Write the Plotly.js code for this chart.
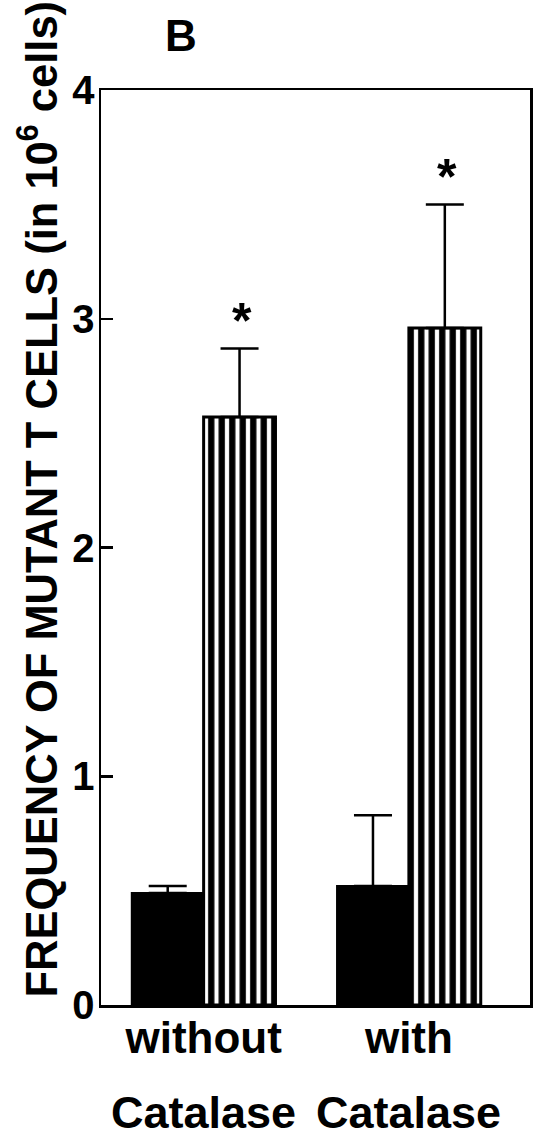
<!DOCTYPE html>
<html>
<head>
<meta charset="utf-8">
<script src="https://cdn.plot.ly/plotly-3.0.1.min.js"></script>
<style>html,body{margin:0;padding:0;background:#fff;}#chart{width:538px;height:1141px;}</style>
</head>
<body>
<div id="chart"></div>
<script>
// ---- data ----
const categories = ["without", "with"];
const secondLine = ["Catalase", "Catalase"];
const controlValues = [0.49, 0.52];      // solid black bars
const controlErrors = [0.03, 0.31];
const treatedValues = [2.57, 2.96];      // vertically striped bars
const treatedErrors = [0.30, 0.54];
const significant = [true, true];        // asterisks over striped bars
const yTickVals = [0, 1, 2, 3, 4];
const yTickText = ["0", "1", "2", "3", "4"];
const panelLabel = "B";
const yTitle = "FREQUENCY OF MUTANT T CELLS (in 10<sup>6</sup> cells)";

const FONT = "'Liberation Sans', Arial, Helvetica, sans-serif";

const errStyle = {type: "data", symmetric: false, color: "#000", thickness: 2.5, width: 19};

const traces = [
  {
    type: "bar", x: categories, y: controlValues, name: "control",
    marker: {color: "#000", line: {color: "#000", width: 2}},
    error_y: Object.assign({array: controlErrors, arrayminus: controlValues.map(() => 0)}, errStyle)
  },
  {
    type: "bar", x: categories, y: treatedValues, name: "treated",
    marker: {
      color: "#fff",
      line: {color: "#000", width: 3},
      pattern: {shape: "|", fgcolor: "#000", bgcolor: "#fff", size: 10.5, solidity: 0.6}
    },
    error_y: Object.assign({array: treatedErrors, arrayminus: treatedValues.map(() => 0)}, errStyle)
  }
];

const annotations = [];
categories.forEach((c, i) => {
  if (significant[i]) {
    annotations.push({
      x: c, y: treatedValues[i] + treatedErrors[i], xref: "x", yref: "y",
      text: "*", showarrow: false, xshift: 38, yshift: 27,
      xanchor: "center", yanchor: "middle",
      font: {family: FONT, size: 50, color: "#000", weight: "bold"}
    });
  }
  annotations.push({
    x: c, y: -0.117, xref: "x", yref: "paper",
    text: secondLine[i], showarrow: false, xanchor: "center", yanchor: "middle",
    font: {family: FONT, size: 45, color: "#000", weight: "bold"}
  });
});
annotations.push({
  x: -0.148, y: 0.553, xref: "paper", yref: "paper",
  text: yTitle, textangle: -90, showarrow: false,
  xanchor: "center", yanchor: "middle",
  font: {family: FONT, size: 43.5, color: "#000", weight: "bold"}
});

const layout = {
  width: 538, height: 1141,
  margin: {l: 101, r: 8, t: 90, b: 136},
  paper_bgcolor: "#fff", plot_bgcolor: "#fff",
  showlegend: false,
  barmode: "group", bargap: 0.30, bargroupgap: 0,
  font: {family: FONT, color: "#000", weight: "bold"},
  title: {
    text: panelLabel, x: 0.336, xanchor: "center", xref: "container",
    y: 0.969, yanchor: "middle", yref: "container",
    font: {family: FONT, size: 44, color: "#000", weight: "bold"}
  },
  xaxis: {
    type: "category", range: [-0.5, 1.59],
    showline: true, linecolor: "#000", linewidth: 2.5, mirror: true,
    ticks: "", showgrid: false, zeroline: false,
    ticklabelstandoff: -7,
    tickfont: {family: FONT, size: 44, color: "#000", weight: "bold"}
  },
  yaxis: {
    range: [0, 4], tickvals: yTickVals, ticktext: yTickText,
    showline: true, linecolor: "#000", linewidth: 2.5, mirror: true,
    ticks: "inside", ticklen: 12, tickwidth: 2.5, tickcolor: "#000",
    showgrid: false, zeroline: false,
    ticklabelstandoff: -4,
    tickfont: {family: FONT, size: 40, color: "#000", weight: "bold"}
  },
  annotations: annotations
};

Plotly.newPlot("chart", traces, layout, {staticPlot: true, displayModeBar: false});
</script>
</body>
</html>
